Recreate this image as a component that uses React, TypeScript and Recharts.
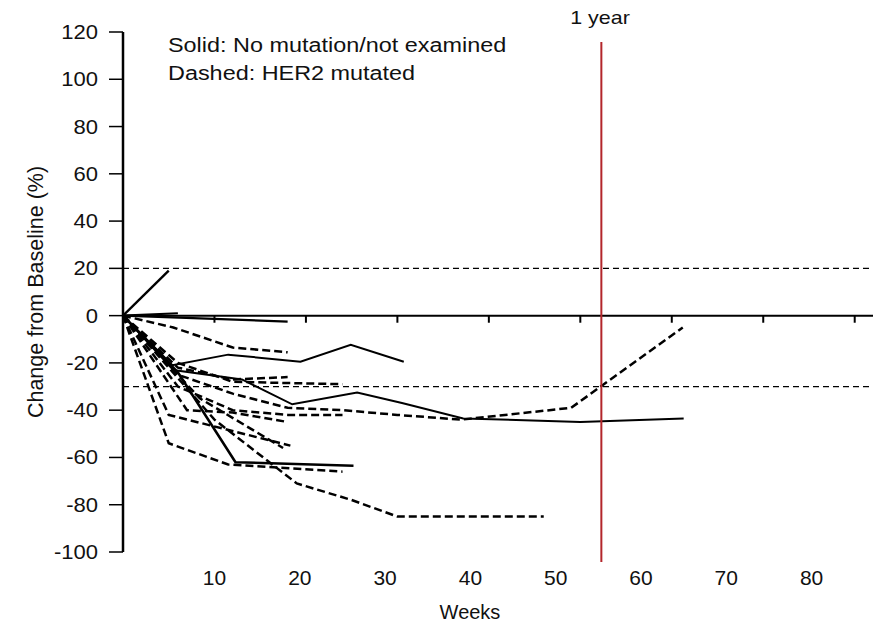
import { LineChart, Line, XAxis, YAxis, ReferenceLine, Label } from "recharts";

const FONT = '"Liberation Sans", Arial, Helvetica, sans-serif';
const STRETCH = 1.13;

/* axis ticks */
const weekTicks = [10, 20, 30, 40, 50, 60, 70, 80];
const changeTicks = [-100, -80, -60, -40, -20, 0, 20, 40, 60, 80, 100, 120];
const thresholds = [20, -30];
const oneYear = 52.3;

/* solid: no mutation / not examined */
const s1Weeks = [0, 5];
const s1Vals = [0, 19];
const s2Weeks = [0, 6];
const s2Vals = [0, 1];
const s3Weeks = [0, 18];
const s3Vals = [0, -2.5];
const s4Weeks = [0, 5.4, 11.5, 19.4, 24.9, 30.7];
const s4Vals = [0, -21, -16.5, -19.5, -12.3, -19.5];
const s5Weeks = [0, 5.5, 13, 18.5, 25.6, 30.5, 37.2, 50, 61.3];
const s5Vals = [0, -23, -27, -37.5, -32.5, -37, -43.5, -45, -43.5];
const s6Weeks = [0, 6, 12.3, 25.2];
const s6Vals = [0, -24, -62, -63.5];

/* dashed: HER2 mutated */
const d1Weeks = [0, 5.5, 12, 18];
const d1Vals = [0, -5, -13.5, -15.5];
const d2Weeks = [0, 6, 12, 18];
const d2Vals = [0, -22, -27, -26];
const d3Weeks = [0, 6, 12, 24];
const d3Vals = [0, -20, -28, -29];
const d4Weeks = [0, 6, 12, 18, 24, 30, 37, 49, 61.2];
const d4Vals = [0, -25, -33, -39, -40, -42, -44, -39, -5];
const d5Weeks = [0, 6, 12, 18, 24];
const d5Vals = [0, -30, -40, -42, -42];
const d6Weeks = [0, 7, 12, 18];
const d6Vals = [0, -40, -41, -45];
const d7Weeks = [0, 5, 18.3];
const d7Vals = [0, -42, -55];
const d8Weeks = [0, 8.4, 17.5];
const d8Vals = [0, -35, -56];
const d9Weeks = [0, 5, 11.5, 24];
const d9Vals = [0, -54, -63, -66];
const d10Weeks = [0, 10, 19, 25, 30, 46];
const d10Vals = [0, -44, -71, -78, -85, -85];

const toPoints = (weeks: number[], vals: number[]) =>
  weeks.map((w, i) => ({ w, v: vals[i] }));

const solidLines = [
  { pts: toPoints(s1Weeks, s1Vals), width: 2.4 },
  { pts: toPoints(s2Weeks, s2Vals), width: 2.2 },
  { pts: toPoints(s3Weeks, s3Vals), width: 2.2 },
  { pts: toPoints(s4Weeks, s4Vals), width: 2 },
  { pts: toPoints(s5Weeks, s5Vals), width: 2 },
  { pts: toPoints(s6Weeks, s6Vals), width: 2.6 },
];

const dashedLines = [
  toPoints(d1Weeks, d1Vals),
  toPoints(d2Weeks, d2Vals),
  toPoints(d3Weeks, d3Vals),
  toPoints(d4Weeks, d4Vals),
  toPoints(d5Weeks, d5Vals),
  toPoints(d6Weeks, d6Vals),
  toPoints(d7Weeks, d7Vals),
  toPoints(d8Weeks, d8Vals),
  toPoints(d9Weeks, d9Vals),
  toPoints(d10Weeks, d10Vals),
];

// chart-level rows only so that the label axis has something to build its scale from
const tickRows = weekTicks.map((w) => ({ w }));

const YTick = (props: any) => {
  const { x, y, payload } = props;
  return (
    <text
      transform={`translate(${x},${y}) scale(${STRETCH},1)`}
      textAnchor="end"
      dominantBaseline="central"
      fontSize={19.5}
      fontFamily={FONT}
      fill="#111"
    >
      {payload.value}
    </text>
  );
};

const XTick = (props: any) => {
  const { x, y, payload } = props;
  return (
    <text
      transform={`translate(${x},${y}) scale(1.05,1)`}
      textAnchor="middle"
      dy="0.71em"
      fontSize={20}
      fontFamily={FONT}
      fill="#111"
    >
      {payload.value}
    </text>
  );
};

export default function App() {
  return (
    <div
      style={{
        position: "absolute",
        left: 0,
        top: 0,
        width: 873,
        height: 627,
        background: "#fff",
        fontFamily: FONT,
      }}
    >
      <LineChart
        width={873}
        height={627}
        data={tickRows}
        margin={{ top: 32, right: 0, bottom: 0, left: 0 }}
      >
        <XAxis
          xAxisId="w"
          type="number"
          dataKey="w"
          domain={[0, 82]}
          allowDataOverflow
          hide
        />
        {/* tick labels in the source sit off the tick marks, so they get their own scale */}
        <XAxis
          xAxisId="lab"
          type="number"
          dataKey="w"
          domain={[-0.73, 87.2]}
          allowDataOverflow
          ticks={weekTicks}
          axisLine={false}
          tickLine={false}
          tickSize={0}
          tickMargin={19}
          height={75}
          tick={<XTick />}
        >
          <Label
            value="Weeks"
            position="insideBottom"
            offset={8}
            dx={-28}
            style={{ fontSize: 20, fontFamily: FONT, fill: "#111" }}
          />
        </XAxis>
        <YAxis
          type="number"
          domain={[-100, 120]}
          ticks={changeTicks}
          allowDataOverflow
          width={123}
          tickSize={14}
          tickMargin={11}
          axisLine={{ stroke: "#000", strokeWidth: 2.5 }}
          tickLine={{ stroke: "#000", strokeWidth: 1.5 }}
          tick={<YTick />}
        >
          <Label
            value="Change from Baseline (%)"
            angle={-90}
            position="insideLeft"
            offset={35}
            style={{
              textAnchor: "middle",
              fontSize: 21.5,
              fontFamily: FONT,
              fill: "#111",
            }}
          />
        </YAxis>

        {thresholds.map((t) => (
          <ReferenceLine
            key={t}
            xAxisId="w"
            y={t}
            stroke="#000"
            strokeWidth={1.2}
            strokeDasharray="6 4"
          />
        ))}
        <ReferenceLine xAxisId="w" y={0} stroke="#000" strokeWidth={2} />
        {weekTicks.map((t) => (
          <ReferenceLine
            key={"t" + t}
            xAxisId="w"
            segment={[
              { x: t, y: 0 },
              { x: t, y: -3 },
            ]}
            stroke="#000"
            strokeWidth={2}
          />
        ))}

        {dashedLines.map((pts, i) => (
          <Line
            key={"d" + i}
            xAxisId="w"
            data={pts}
            dataKey="v"
            type="linear"
            stroke="#000"
            strokeWidth={2.5}
            strokeDasharray="8 4"
            dot={false}
            activeDot={false}
            isAnimationActive={false}
          />
        ))}
        {solidLines.map((s, i) => (
          <Line
            key={"s" + i}
            xAxisId="w"
            data={s.pts}
            dataKey="v"
            type="linear"
            stroke="#000"
            strokeWidth={s.width}
            dot={false}
            activeDot={false}
            isAnimationActive={false}
          />
        ))}

        <ReferenceLine
          xAxisId="w"
          segment={[
            { x: oneYear, y: 115.8 },
            { x: oneYear, y: -104.2 },
          ]}
          ifOverflow="visible"
          stroke="#b3262b"
          strokeWidth={2}
        />
      </LineChart>

      <div
        style={{
          position: "absolute",
          left: 168,
          top: 31,
          fontSize: 20,
          lineHeight: "28px",
          color: "#111",
          transform: "scaleX(1.17)",
          transformOrigin: "0 0",
          whiteSpace: "nowrap",
        }}
      >
        <div>Solid: No mutation/not examined</div>
        <div>Dashed: HER2 mutated</div>
      </div>
      <div
        style={{
          position: "absolute",
          left: 560,
          top: 7,
          width: 80,
          textAlign: "center",
          fontSize: 19,
          lineHeight: "22px",
          color: "#111",
          transform: `scaleX(${STRETCH})`,
          whiteSpace: "nowrap",
        }}
      >
        1 year
      </div>
    </div>
  );
}
